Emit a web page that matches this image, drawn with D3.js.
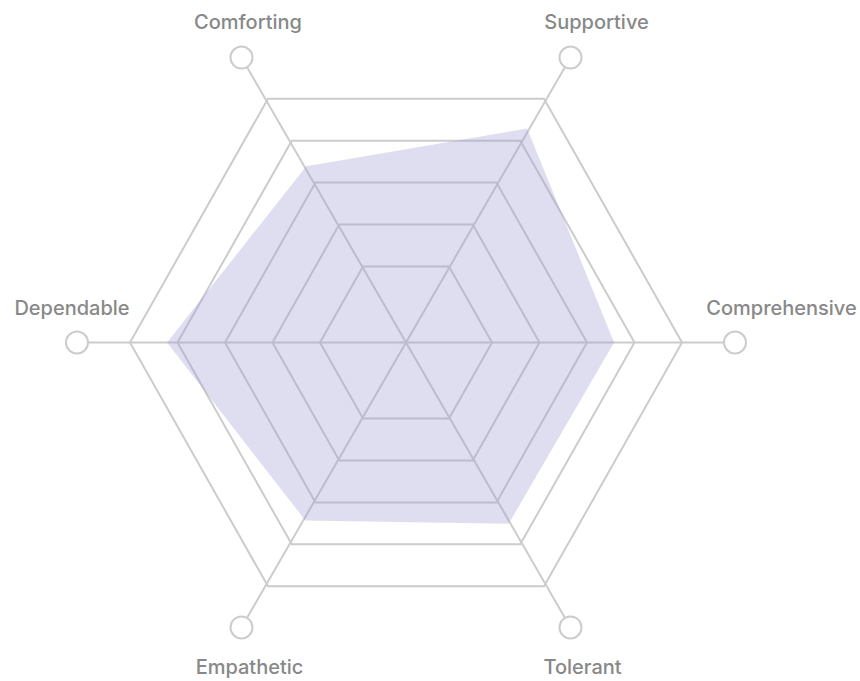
<!DOCTYPE html>
<html>
<head>
<meta charset="utf-8">
<script src="https://cdn.jsdelivr.net/npm/d3@7"></script>
<style>
  body { margin: 0; background: #fff; }
  .label { font-family: Inter, "Liberation Sans", Arial, sans-serif; font-weight: 500; font-size: 20px; fill: #888; }
</style>
</head>
<body>
<div class="chart-container"></div>
<script>
// axes go counter-clockwise starting from the right
var axes = ["Comprehensive", "Supportive", "Comforting", "Dependable", "Empathetic", "Tolerant"];
var scores = [3.57, 4.29, 3.39, 4.22, 3.43, 3.51];
var levels = [1, 2, 3, 4, 5];

var width = 860, height = 681,
    cx = 406, cy = 342.5,
    ky = 1.02,          // the original grid is a touch taller than wide
    knobR = 329;

// label nudges relative to the knob circle (dx, baseline dy)
var labelNudge = [[46.5, -27.5], [26, -28.6], [6.5, -28.6], [-5, -27.5], [8, 46.6], [12, 46.6]];

var svg = d3.select(".chart-container")
    .append("svg")
    .attr("width", width)
    .attr("height", height);

var r = d3.scaleLinear()
    .domain([0, 5])
    .range([38.5, 276]);

var angle = d3.scaleLinear()
    .domain([0, axes.length])
    .range([0, 2 * Math.PI]);

function pt(i, rad, k) {
  var a = angle(i);
  return [cx + rad * Math.cos(a), cy - rad * Math.sin(a) * (k || ky)];
}

function knob(i) { return pt(i, knobR, 1); }

var line = d3.line().curve(d3.curveLinearClosed);

// rings
svg.append("g")
    .selectAll("path")
    .data(levels)
    .enter().append("path")
    .attr("d", function(l) { return line(axes.map(function(_, i) { return pt(i, r(l)); })); })
    .attr("fill", "none")
    .attr("stroke", "#ccc")
    .attr("stroke-width", 2);

// spokes
svg.append("g")
    .selectAll("line")
    .data(axes)
    .enter().append("line")
    .attr("x1", cx)
    .attr("y1", cy)
    .attr("x2", function(d, i) { return knob(i)[0]; })
    .attr("y2", function(d, i) { return knob(i)[1]; })
    .attr("stroke", "#ccc")
    .attr("stroke-width", 2);

// the score area
svg.append("path")
    .datum(scores)
    .attr("d", function(d) { return line(d.map(function(v, i) { return pt(i, r(v)); })); })
    .attr("fill", "#9a9ad2")
    .attr("fill-opacity", 0.33);

// knobs at the end of each spoke
svg.append("g")
    .selectAll("circle")
    .data(axes)
    .enter().append("circle")
    .attr("cx", function(d, i) { return knob(i)[0]; })
    .attr("cy", function(d, i) { return knob(i)[1]; })
    .attr("r", 11)
    .attr("fill", "#fff")
    .attr("stroke", "#ccc")
    .attr("stroke-width", 2);

svg.append("g")
    .selectAll("text")
    .data(axes)
    .enter().append("text")
    .attr("class", "label")
    .attr("text-anchor", "middle")
    .attr("x", function(d, i) { return knob(i)[0] + labelNudge[i][0]; })
    .attr("y", function(d, i) { return knob(i)[1] + labelNudge[i][1]; })
    .text(function(d) { return d; });
</script>
</body>
</html>
